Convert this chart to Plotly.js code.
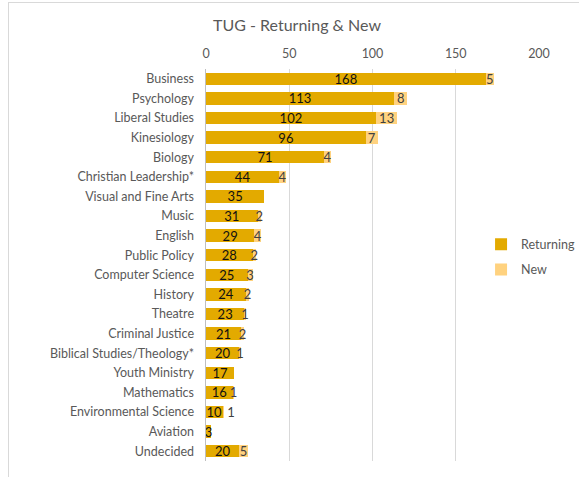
<!DOCTYPE html>
<html>
<head>
<meta charset="utf-8">
<script src="https://cdn.plot.ly/plotly-3.0.1.min.js"></script>
<style>
  html, body { margin: 0; padding: 0; background: #fff; }
  #wrap { position: relative; width: 579px; height: 477px; }
  #chart { width: 579px; height: 477px; }
  #frame { position: absolute; left: 8px; top: 2px; width: 600px; height: 500px;
           border-left: 1px solid #d9d9d9; border-top: 1px solid #d9d9d9; pointer-events: none; }
</style>
</head>
<body>
<div id="wrap">
  <div id="chart"></div>
  <div id="frame"></div>
</div>
<script>
const categories = ["Business", "Psychology", "Liberal Studies", "Kinesiology", "Biology",
  "Christian Leadership*", "Visual and Fine Arts", "Music", "English", "Public Policy",
  "Computer Science", "History", "Theatre", "Criminal Justice", "Biblical Studies/Theology*",
  "Youth Ministry", "Mathematics", "Environmental Science", "Aviation", "Undecided"];
const returning = [168, 113, 102, 96, 71, 44, 35, 31, 29, 28, 25, 24, 23, 21, 20, 17, 16, 10, 3, 20];
const newStudents = [5, 8, 13, 7, 4, 4, 0, 2, 4, 2, 3, 2, 1, 2, 1, 0, 1, 1, 0, 5];
const xTicks = [0, 50, 100, 150, 200];

const FONT = "Lato, 'Open Sans', sans-serif";

// label placement: a "New" label sits past the bar when the stacked bar is too short
const newPos = newStudents.map((v, i) => (returning[i] + v) <= 11 ? "outside" : "inside");

const traces = [
  {
    type: "bar", orientation: "h", name: "Returning", legendgroup: "r",
    y: categories, x: returning,
    marker: { color: "#E3AA00" },
    text: returning.map(v => v ? String(v) : ""),
    textposition: "inside", insidetextanchor: "middle", textangle: 0, constraintext: "none",
    textfont: { family: FONT, size: 13, color: "#111" },
    hoverinfo: "x+y"
  },
  {
    type: "bar", orientation: "h", name: "New", legendgroup: "n",
    y: categories, x: newStudents,
    marker: { color: "#FFD27F" },
    text: newStudents.map(v => v ? String(v) : ""),
    textposition: newPos, insidetextanchor: "middle", textangle: 0, constraintext: "none",
    textfont: { family: FONT, size: 13, color: "#404040" },
    cliponaxis: false,
    hoverinfo: "x+y"
  }
];

const layout = {
  width: 579, height: 477,
  margin: { l: 206, r: 40, t: 69, b: 16, autoexpand: false },
  paper_bgcolor: "rgba(0,0,0,0)", plot_bgcolor: "#fff",
  barmode: "stack", bargap: 0.36,
  font: { family: FONT, color: "#595959", size: 12 },
  title: {
    text: "TUG - Returning & New",
    font: { family: FONT, size: 16, color: "#595959" },
    xref: "container", yref: "container",
    x: 297 / 579, xanchor: "center",
    y: 1 - 25 / 477, yanchor: "middle"
  },
  xaxis: {
    side: "top", range: [0, 200], tickvals: xTicks, ticktext: xTicks.map(String),
    showgrid: true, gridcolor: "#d9d9d9", gridwidth: 1, zeroline: false,
    ticks: "outside", ticklen: 5, tickcolor: "rgba(0,0,0,0)",
    tickfont: { family: FONT, size: 12.5, color: "#595959" },
    fixedrange: true
  },
  yaxis: {
    autorange: "reversed", type: "category",
    showline: true, linecolor: "#bfbfbf", linewidth: 1.5,
    showgrid: false, zeroline: false,
    ticks: "outside", ticklen: 8, tickcolor: "rgba(0,0,0,0)",
    tickfont: { family: FONT, size: 12.5, color: "#595959" },
    fixedrange: true
  },
  showlegend: true,
  legend: {
    x: 0.826, xanchor: "left", y: 0.52, yanchor: "middle",
    bgcolor: "rgba(0,0,0,0)", font: { family: FONT, size: 12.5, color: "#595959" },
    itemwidth: 30, tracegroupgap: 6, traceorder: "grouped"
  }
};

Plotly.newPlot("chart", traces, layout, { displayModeBar: false, staticPlot: true });
</script>
</body>
</html>
